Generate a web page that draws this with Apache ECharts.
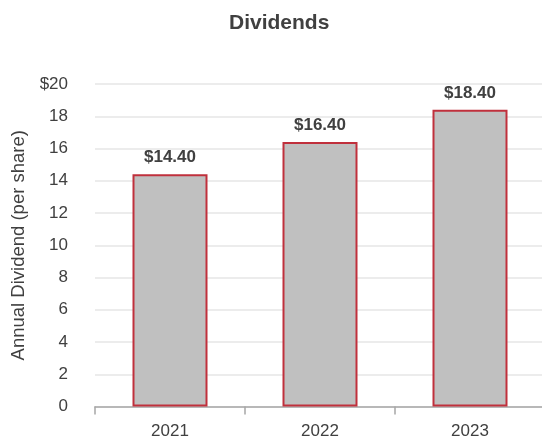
<!DOCTYPE html>
<html>
<head>
<meta charset="utf-8">
<script src="https://cdn.jsdelivr.net/npm/echarts@6/dist/echarts.min.js"></script>
<style>
  html, body { margin: 0; padding: 0; background: #fff; }
  #chart { width: 542px; height: 441px; }
</style>
</head>
<body>
<div id="chart"></div>
<script>
const years = ['2021', '2022', '2023']
const dividends = [14.40, 16.40, 18.40]
const yTicks = [0, 2, 4, 6, 8, 10, 12, 14, 16, 18, 20]

const chart = echarts.init(document.getElementById('chart'))
const font = 'Liberation Sans, Arial, sans-serif'

chart.setOption({
  animation: false,
  title: {
    text: 'Dividends',
    left: 224,
    top: 8,
    textStyle: { fontFamily: font, fontSize: 21, fontWeight: 'bold', color: '#404040' }
  },
  grid: { left: 95, width: 450, top: 84, bottom: 34.5, outerBoundsMode: 'none', containLabel: false },
  xAxis: {
    type: 'category',
    data: years,
    axisLine: { lineStyle: { color: '#a6a6a6', width: 1.5 } },
    axisTick: { show: true, length: 8, lineStyle: { color: '#a6a6a6', width: 1.5 } },
    axisLabel: { fontFamily: font, fontSize: 17, color: '#404040', margin: 16 }
  },
  yAxis: {
    type: 'value',
    min: yTicks[0],
    max: yTicks[yTicks.length - 1],
    interval: 2,
    name: 'Annual Dividend (per share)',
    nameLocation: 'middle',
    nameGap: 66,
    nameTextStyle: { fontFamily: font, fontSize: 18.5, color: '#404040' },
    axisLine: { show: false },
    axisTick: { show: false },
    axisLabel: {
      fontFamily: font, fontSize: 17, color: '#404040', margin: 27,
      formatter: v => (v === 20 ? '$20' : String(v))
    },
    splitLine: { lineStyle: { color: '#e6e6e6', width: 1.5 } }
  },
  series: [{
    type: 'bar',
    data: dividends,
    barWidth: '50%',
    itemStyle: { color: '#c0c0c0', borderColor: '#c0303c', borderWidth: 2 },
    label: {
      show: true,
      position: 'top',
      distance: 8,
      fontFamily: font,
      fontSize: 17,
      fontWeight: 'bold',
      color: '#404040',
      formatter: p => '$' + p.value.toFixed(2)
    }
  }]
})
</script>
</body>
</html>
